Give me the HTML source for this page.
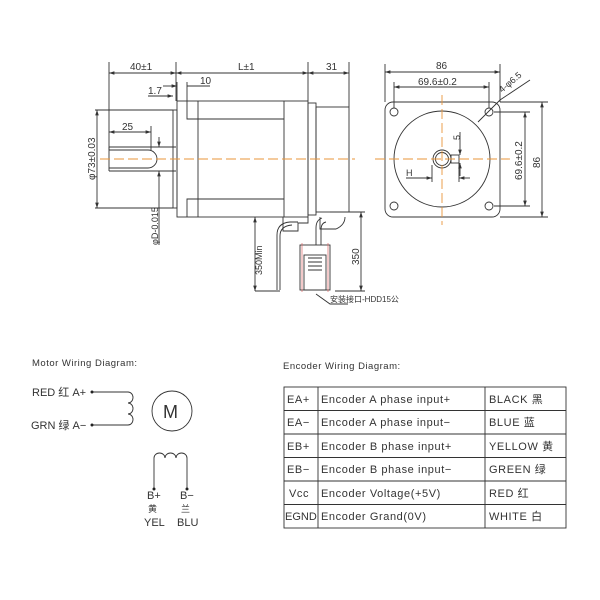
<!DOCTYPE html>
<html><head><meta charset="utf-8"><style>
body{margin:0;background:#fff}
svg{display:block}
text{font-family:"Liberation Sans","Noto Sans CJK SC",sans-serif;fill:#333}
</style></head><body>
<svg width="600" height="600" viewBox="0 0 600 600" xmlns="http://www.w3.org/2000/svg">
<defs><marker id="a" markerWidth="6" markerHeight="6" refX="6" refY="3" orient="auto-start-reverse"><path d="M0,1 L6,3 L0,5z" fill="#333"/></marker></defs>
<g stroke="#333" stroke-width="0.9" fill="none">
<line x1="109" y1="62" x2="109" y2="150"/><line x1="176" y1="62" x2="176" y2="101"/><line x1="308" y1="62" x2="308" y2="101"/><line x1="349" y1="62" x2="349" y2="107"/>
<line x1="109" y1="73" x2="176" y2="73" marker-start="url(#a)" marker-end="url(#a)"/>
<line x1="176" y1="73" x2="308" y2="73" marker-start="url(#a)" marker-end="url(#a)"/>
<line x1="308" y1="73" x2="349" y2="73" marker-start="url(#a)" marker-end="url(#a)"/>
<line x1="187" y1="82" x2="187" y2="101"/><line x1="177" y1="82" x2="177" y2="101"/>
<line x1="163" y1="86" x2="177" y2="86" marker-end="url(#a)"/><line x1="187" y1="86" x2="210" y2="86"/>
<line x1="148" y1="96" x2="173" y2="96" marker-end="url(#a)"/>
<rect x="173" y="110" width="4" height="98"/>
<rect x="177" y="101" width="131" height="116"/>
<polyline points="187,101 187,119 284,119"/><polyline points="187,217 187,199 284,199"/>
<line x1="198" y1="101" x2="198" y2="217"/><line x1="284" y1="101" x2="284" y2="217"/>
<rect x="308" y="103" width="8" height="112"/>
<rect x="316" y="107" width="33" height="105"/>
<path d="M109,147 H176 M109,171 H176 M109,147 V171"/>
<path d="M109,150 H148 A9,9 0 0 1 148,168 H109"/>
<line x1="97" y1="110" x2="97" y2="208" marker-start="url(#a)" marker-end="url(#a)"/>
<line x1="95" y1="110" x2="173" y2="110"/><line x1="95" y1="208" x2="173" y2="208"/>
<line x1="151" y1="126" x2="151" y2="150"/>
<line x1="109" y1="132" x2="151" y2="132" marker-start="url(#a)" marker-end="url(#a)"/>
<line x1="159" y1="137" x2="159" y2="147" marker-end="url(#a)"/><line x1="159" y1="171" x2="159" y2="245" marker-start="url(#a)"/>
<line x1="255" y1="217" x2="255" y2="291" marker-start="url(#a)" marker-end="url(#a)"/>
<line x1="255" y1="291" x2="280" y2="291"/>
<line x1="361" y1="212" x2="361" y2="291" marker-start="url(#a)" marker-end="url(#a)"/>
<line x1="330" y1="212" x2="365" y2="212"/><line x1="335" y1="291" x2="365" y2="291"/>
<path d="M283,217 V231 H298 V223 H308 V217"/>
<path d="M320,217 V229 H336 Q345,225 345,217"/>
<path d="M277,290 V235 Q277,223 290,222 H298 M280,290 V236 Q280,226 292,225"/>
<path d="M316,245 V228 Q316,220 322,218 M321,245 V230 Q321,223 326,222"/>
<rect x="300" y="245" width="30" height="45"/>
<rect x="304" y="255" width="22" height="35"/>
<path d="M308,258 H322 M308,262 H322 M308,266 H322 M308,270 H322"/>
<path d="M316,294 L330,304 H348"/>
<rect x="385" y="102" width="115" height="115" rx="8"/>
<circle cx="442" cy="159" r="48"/>
<circle cx="394" cy="112" r="4"/><circle cx="489" cy="112" r="4"/><circle cx="394" cy="206" r="4"/><circle cx="489" cy="206" r="4"/>
<circle cx="442" cy="159" r="9"/><circle cx="442" cy="159" r="6.5"/>
<rect x="451" y="155" width="8" height="8"/>
<line x1="385" y1="64" x2="385" y2="102"/><line x1="500" y1="64" x2="500" y2="102"/>
<line x1="385" y1="72" x2="500" y2="72" marker-start="url(#a)" marker-end="url(#a)"/>
<line x1="394" y1="82" x2="394" y2="108"/><line x1="489" y1="82" x2="489" y2="108"/>
<line x1="394" y1="87" x2="489" y2="87" marker-start="url(#a)" marker-end="url(#a)"/>
<line x1="500" y1="102" x2="548" y2="102"/><line x1="500" y1="217" x2="548" y2="217"/>
<line x1="494" y1="112" x2="530" y2="112"/><line x1="494" y1="206" x2="530" y2="206"/>
<line x1="542" y1="102" x2="542" y2="217" marker-start="url(#a)" marker-end="url(#a)"/>
<line x1="525" y1="112" x2="525" y2="206" marker-start="url(#a)" marker-end="url(#a)"/>
<path d="M478,122 L500,100 L530,80"/>
<line x1="460" y1="132" x2="460" y2="155" marker-end="url(#a)"/><line x1="460" y1="163" x2="460" y2="176" marker-start="url(#a)"/>
<line x1="406" y1="178" x2="432" y2="178" marker-end="url(#a)"/><line x1="459" y1="178" x2="470" y2="178" marker-start="url(#a)"/>
<line x1="432" y1="165" x2="432" y2="182"/><line x1="459" y1="163" x2="459" y2="182"/>
<polyline points="92,392 128,392"/><polyline points="92,425 128,425"/>
<path d="M128,392 A5,5.5 0 0 1 128,403 A5,5.5 0 0 1 128,414 A5,5.5 0 0 1 128,425"/>
<circle cx="172" cy="411" r="20"/>
<path d="M154,489 V458 A5.5,5 0 0 1 165,458 A5.5,5 0 0 1 176,458 A5.5,5 0 0 1 187,458 V489"/>
<rect x="284" y="387" width="282" height="141"/>
<path d="M284,410.5 H566 M284,434 H566 M284,457.5 H566 M284,481 H566 M284,504.5 H566 M318,387 V528 M485,387 V528"/>
</g>
<circle cx="92" cy="392" r="1.5" fill="#222"/><circle cx="92" cy="425" r="1.5" fill="#222"/>
<circle cx="154" cy="489" r="1.5" fill="#222"/><circle cx="187" cy="489" r="1.5" fill="#222"/>
<g stroke="#e9953a" stroke-width="0.9" stroke-dasharray="10,4">
<line x1="100" y1="159" x2="355" y2="159"/><line x1="375" y1="159" x2="510" y2="159"/><line x1="442" y1="95" x2="442" y2="225"/>
</g>
<g stroke="#d66" stroke-width="0.7"><line x1="302" y1="243" x2="302" y2="292"/><line x1="328" y1="243" x2="328" y2="292"/></g>
<g font-size="10">
<text x="130" y="70">40±1</text><text x="238" y="70">L±1</text><text x="326" y="70">31</text>
<text x="200" y="84">10</text><text x="148" y="94">1.7</text><text x="122" y="130">25</text>
<text transform="translate(95,180) rotate(-90)">φ73±0.03</text>
<text transform="translate(158,245) rotate(-90)" font-size="9">φD-0.015</text>
<text transform="translate(262,275) rotate(-90)" font-size="9">350Min</text>
<text transform="translate(359,265) rotate(-90)">350</text>
<text x="330" y="302" font-size="8">安装接口-HDD15公</text>
<text x="436" y="69">86</text><text x="418" y="85">69.6±0.2</text>
<text transform="translate(502,93) rotate(-40)" font-size="9">4-φ6.5</text>
<text transform="translate(540,168) rotate(-90)">86</text>
<text transform="translate(522,180) rotate(-90)">69.6±0.2</text>
<text transform="translate(460,140) rotate(-90)" font-size="9">5</text>
<text x="406" y="176" font-size="9">H</text>
<text x="32" y="366" font-size="9.5" letter-spacing="0.5">Motor Wiring Diagram:</text>
<text x="32" y="396" font-size="11">RED 红 A+</text><text x="31" y="429" font-size="11">GRN 绿 A−</text>
<text x="163" y="418" font-size="18">M</text>
<text x="147" y="499" font-size="11">B+</text><text x="180" y="499" font-size="11">B−</text>
<text x="148" y="512" font-size="9">黄</text><text x="181" y="512" font-size="9">兰</text>
<text x="144" y="526" font-size="11">YEL</text><text x="177" y="526" font-size="11">BLU</text>
<text x="283" y="369" font-size="9.5" letter-spacing="0.5">Encoder Wiring Diagram:</text>
</g>
<g font-size="11" letter-spacing="0.6">
<text x="287" y="403">EA+</text><text x="321" y="403">Encoder A phase input+</text><text x="489" y="403">BLACK 黑</text>
<text x="287" y="426">EA−</text><text x="321" y="426">Encoder A phase input−</text><text x="489" y="426">BLUE 蓝</text>
<text x="287" y="450">EB+</text><text x="321" y="450">Encoder B phase input+</text><text x="489" y="450">YELLOW 黄</text>
<text x="287" y="473">EB−</text><text x="321" y="473">Encoder B phase input−</text><text x="489" y="473">GREEN 绿</text>
<text x="289" y="497">Vcc</text><text x="321" y="497">Encoder Voltage(+5V)</text><text x="489" y="497">RED 红</text>
<text x="285" y="520" letter-spacing="0">EGND</text><text x="321" y="520">Encoder Grand(0V)</text><text x="489" y="520">WHITE 白</text>
</g>
</svg>
</body></html>
